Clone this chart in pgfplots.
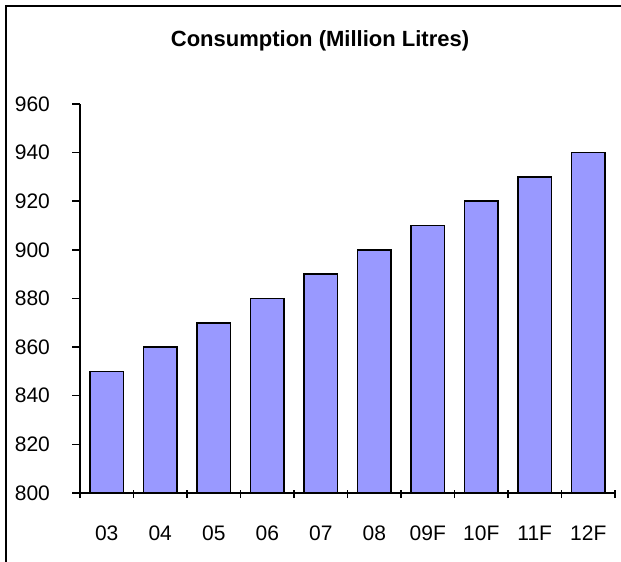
\documentclass[border=0pt]{standalone}
\usepackage{fontspec}
\setmainfont{Liberation Sans}
\usepackage{pgfplots}
\pgfplotsset{compat=1.18}
\definecolor{barblue}{HTML}{9999FF}
\begin{document}
\begin{tikzpicture}
\useasboundingbox (0,0) rectangle (310.5pt,281pt);
\draw[line width=0.9pt] (3pt,-2pt) -- (3pt,278pt) -- (315pt,278pt);
\node[anchor=base, font=\fontsize{11}{13}\selectfont\bfseries, inner sep=0pt] at (160pt,257.5pt) {Consumption (Million Litres)};
\begin{axis}[
  at={(40pt,34.5pt)}, anchor=south west,
  scale only axis, width=267.5pt, height=194.5pt,
  axis lines*=left,
  axis line style={line width=0.75pt, black},
  xmin=-0.5, xmax=9.5, ymin=800, ymax=960,
  ytick={800,820,...,960},
  xtick={-0.5,0.5,...,9.5},
  x tick label as interval,
  xticklabels={03,04,05,06,07,08,09F,10F,11F,12F},
  tick align=outside,
  major tick length=4pt,
  tick style={line width=0.75pt, black},
  x tick style={yshift=1.5pt},
  /pgf/number format/assume math mode=true,
  ticklabel style={font=\fontsize{10.5}{12}\selectfont},
  yticklabel style={xshift=-7.5pt},
  xticklabel style={yshift=-9pt},
]
\addplot[ybar, bar width=0.62, fill=barblue, draw=black, line width=0.75pt]
  coordinates {(0,850) (1,860) (2,870) (3,880) (4,890) (5,900) (6,910) (7,920) (8,930) (9,940)};
\end{axis}
\end{tikzpicture}
\end{document}
